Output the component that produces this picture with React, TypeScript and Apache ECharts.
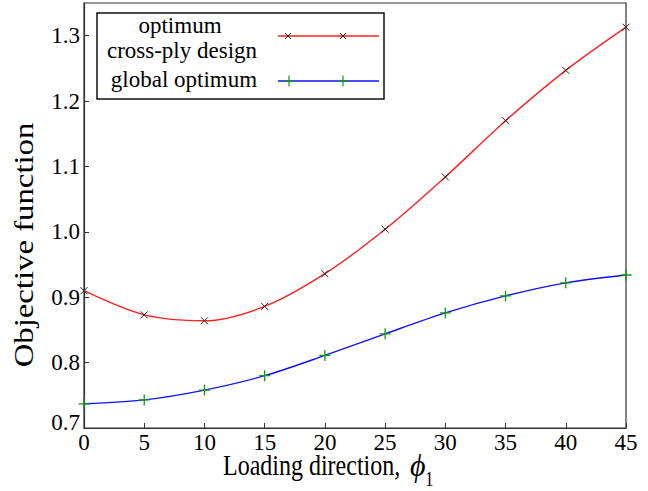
import React, { useEffect, useRef } from "react";
import * as echarts from "echarts";

const loadingDirection = [0, 5, 10, 15, 20, 25, 30, 35, 40, 45];
const crossPlyOptimum = [0.91, 0.873, 0.864, 0.886, 0.936, 1.004, 1.084, 1.17, 1.247, 1.313];
const globalOptimum = [0.737, 0.743, 0.758, 0.78, 0.811, 0.844, 0.876, 0.902, 0.922, 0.934];
const legendLabels = ["optimum", "cross-ply design", "global optimum"];
const xTitle = "Loading direction,";
const yTitle = "Objective function";

const FONT = "Liberation Serif";
const X_MARK = "path://M0,0L10,10M10,0L0,10";
const PLUS_MARK = "path://M5,0L5,10M0,5L10,5";

function crossLines(cx: number, cy: number, h: number, color: string) {
  return [
    { type: "line", shape: { x1: cx - h, y1: cy - h, x2: cx + h, y2: cy + h }, style: { stroke: color, lineWidth: 1 }, z: 110 },
    { type: "line", shape: { x1: cx - h, y1: cy + h, x2: cx + h, y2: cy - h }, style: { stroke: color, lineWidth: 1 }, z: 110 },
  ];
}
function plusLines(cx: number, cy: number, h: number, color: string) {
  return [
    { type: "line", shape: { x1: cx - h, y1: cy, x2: cx + h, y2: cy }, style: { stroke: color, lineWidth: 1.2 }, z: 110 },
    { type: "line", shape: { x1: cx, y1: cy - h, x2: cx, y2: cy + h }, style: { stroke: color, lineWidth: 1.2 }, z: 110 },
  ];
}

function txt(text: string, x: number, y: number, size: number, align: string, extra: any = {}, italic = false) {
  return {
    type: "text",
    x,
    y,
    ...extra,
    style: {
      text,
      fontFamily: FONT,
      fontSize: size,
      fontStyle: italic ? "italic" : "normal",
      fill: "#000",
      align,
      verticalAlign: "middle",
    },
    z: 110,
  };
}

export default function App() {
  const ref = useRef<HTMLDivElement>(null);
  useEffect(() => {
    if (!ref.current) return;
    const chart = echarts.init(ref.current, undefined, { renderer: "svg" });
    const red = "#ff2020";
    const blue = "#1010ff";
    const green = "#119911";
    chart.setOption({
      animation: false,
      backgroundColor: "#ffffff",
      textStyle: { fontFamily: FONT },
      grid: {
        left: 84,
        right: 22,
        top: 3,
        bottom: 63,
        show: true,
        borderColor: "#333",
        borderWidth: 1.2,
        outerBoundsMode: "none",
      },
      xAxis: {
        type: "value",
        min: 0,
        max: 45,
        interval: 5,
        axisLine: { show: true, lineStyle: { color: "#333", width: 1.2 } },
        axisTick: { show: true, inside: true, length: 5, lineStyle: { color: "#333" } },
        splitLine: { show: false },
        axisLabel: { color: "#000", fontFamily: FONT, fontSize: 23, margin: 3 },
      },
      yAxis: {
        type: "value",
        min: 0.7,
        max: 1.35,
        interval: 0.1,
        axisLine: { show: true, lineStyle: { color: "#333", width: 1.2 } },
        axisTick: { show: true, inside: true, length: 5, lineStyle: { color: "#333" } },
        splitLine: { show: false },
        axisLabel: {
          color: "#000",
          fontFamily: FONT,
          fontSize: 23,
          margin: 4,
          showMaxLabel: false,
          formatter: (v: number) => (Math.abs(v - 0.7) < 1e-6 ? "{lo|0.7}" : v.toFixed(1)),
          rich: {
            lo: { fontFamily: FONT, fontSize: 23, color: "#000", padding: [0, 0, 12, 0] },
          },
        },
      },
      series: [
        {
          type: "line",
          name: "optimum cross-ply design",
          data: loadingDirection.map((x, i) => [x, crossPlyOptimum[i]]),
          smooth: 0.3,
          symbol: X_MARK,
          symbolSize: 7,
          showAllSymbol: true,
          lineStyle: { color: red, width: 1.4 },
          itemStyle: { color: "rgba(0,0,0,0)", borderColor: "#222", borderWidth: 1 },
          z: 3,
        },
        {
          type: "line",
          name: "global optimum",
          data: loadingDirection.map((x, i) => [x, globalOptimum[i]]),
          smooth: 0.3,
          symbol: PLUS_MARK,
          symbolSize: 11,
          showAllSymbol: true,
          lineStyle: { color: blue, width: 1.4 },
          itemStyle: { color: "rgba(0,0,0,0)", borderColor: green, borderWidth: 1.3 },
          z: 3,
        },
      ],
      graphic: [
        {
          type: "rect",
          shape: { x: 97, y: 13, width: 287, height: 86 },
          style: { fill: "#fff", stroke: "#111", lineWidth: 1.5 },
          z: 100,
        },
        txt(legendLabels[0], 180, 25, 23, "center"),
        txt(legendLabels[1], 182, 50, 23, "center"),
        txt(legendLabels[2], 184, 79, 23, "center"),
        { type: "line", shape: { x1: 278, y1: 36, x2: 379, y2: 36 }, style: { stroke: red, lineWidth: 1.4 }, z: 105 },
        ...crossLines(288, 36, 3, "#222"),
        ...crossLines(343, 36, 3, "#222"),
        { type: "line", shape: { x1: 278, y1: 81, x2: 379, y2: 81 }, style: { stroke: blue, lineWidth: 1.4 }, z: 105 },
        ...plusLines(289, 81, 5.5, green),
        ...plusLines(343, 81, 5.5, green),
        txt(xTitle, 223, 465, 24, "left", { scaleY: 1.25 }),
        txt("\u03D5", 410, 466, 30, "left", { scaleY: 1.05 }, true),
        txt("1", 425, 479, 17, "left", { scaleY: 1.25 }),
        txt(yTitle, 24, 245, 28, "center", { rotation: Math.PI / 2, scaleX: 1.17 }),
      ],
    });
    return () => chart.dispose();
  }, []);
  return (
    <div
      ref={ref}
      style={{ position: "fixed", left: 0, top: 0, width: 648, height: 491, background: "#fff" }}
    />
  );
}
